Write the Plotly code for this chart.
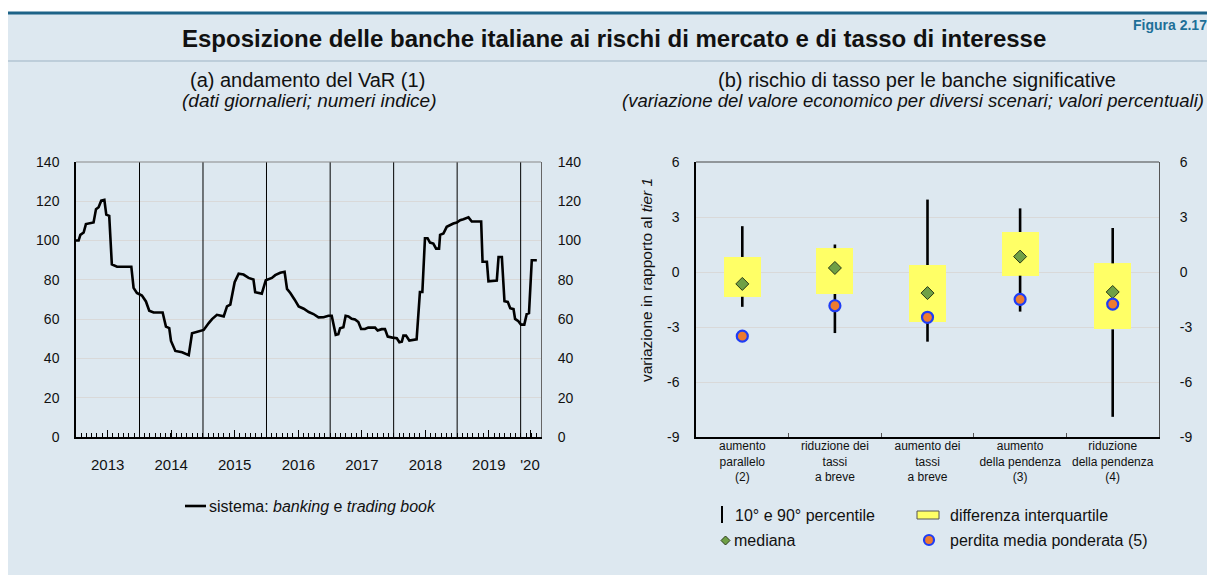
import plotly.graph_objects as go

# the page body adds an 8px margin, so the figure is drawn 8px in from the top-left
OFF = 8
W, H = 1215 - OFF, 575 - OFF

# ---------------- data ----------------
VAR_DATES = [
    "2013-01-01", "2013-01-16", "2013-01-26", "2013-02-14", "2013-02-27", "2013-03-24",
    "2013-04-12", "2013-04-26", "2013-05-11", "2013-05-26", "2013-06-13", "2013-06-24",
    "2013-07-11", "2013-07-26", "2013-08-25", "2013-11-15", "2013-11-28", "2013-12-17",
    "2014-01-15", "2014-02-07", "2014-02-26", "2014-03-23", "2014-05-14", "2014-06-02",
    "2014-06-21", "2014-07-01", "2014-07-26", "2014-09-03", "2014-10-11", "2014-10-30",
    "2014-12-13", "2015-01-05", "2015-02-03", "2015-02-22", "2015-03-22", "2015-04-30",
    "2015-05-19", "2015-06-07", "2015-07-02", "2015-07-25", "2015-08-22", "2015-09-20",
    "2015-10-18", "2015-10-28", "2015-12-05", "2015-12-28", "2016-02-01", "2016-02-20",
    "2016-03-20", "2016-04-14", "2016-04-28", "2016-05-17", "2016-06-11", "2016-07-04",
    "2016-08-02", "2016-08-31", "2016-09-27", "2016-10-26", "2016-11-24", "2016-12-22",
    "2017-01-10", "2017-02-02", "2017-02-17", "2017-02-27", "2017-03-18", "2017-03-31",
    "2017-04-16", "2017-05-05", "2017-05-24", "2017-06-12", "2017-06-28", "2017-07-20",
    "2017-08-08", "2017-09-16", "2017-10-01", "2017-10-24", "2017-11-12", "2017-11-28",
    "2017-12-25", "2018-01-19", "2018-02-03", "2018-02-17", "2018-02-26", "2018-03-13",
    "2018-04-01", "2018-04-24", "2018-05-13", "2018-06-01", "2018-06-15", "2018-06-30",
    "2018-07-15", "2018-07-29", "2018-08-17", "2018-09-02", "2018-09-19", "2018-09-25",
    "2018-10-14", "2018-11-02", "2018-11-21", "2018-12-10", "2018-12-30", "2019-01-18",
    "2019-02-06", "2019-03-07", "2019-03-26", "2019-05-19", "2019-05-27", "2019-06-21",
    "2019-06-30", "2019-08-17", "2019-08-27", "2019-09-15", "2019-09-30", "2019-10-19",
    "2019-11-02", "2019-11-21", "2019-11-30", "2019-12-19", "2020-01-03", "2020-01-22",
    "2020-02-05", "2020-02-18", "2020-03-05", "2020-04-03",
]
VAR_VALUES = [
    100, 100, 102.9, 104.1, 108.4, 108.9,
    109.2, 116, 117, 120.3, 120.7, 113.2,
    112.6, 87.9, 86.7, 86.7, 75.9, 73.3,
    72, 69, 64.3, 63.4, 63.4, 56.2,
    55.4, 48.9, 43.8, 43.1, 41.7, 52.8,
    53.7, 54.5, 58, 60, 62.2, 61.4,
    66.5, 67.4, 78.8, 83.1, 82.7, 81,
    80.2, 73.7, 73, 79.8, 81, 82.4,
    83.6, 84.1, 75.4, 73.3, 69.9, 66.5,
    65.3, 63.6, 62.6, 60.9, 61, 61.7,
    61.7, 52, 52.3, 55.4, 55.9, 61.7,
    61.4, 60.2, 59.8, 58.5, 55.0, 55.0,
    55.7, 55.7, 54.2, 54.9, 54.9, 51.1,
    50.6, 50.3, 48.2, 48.5, 51.6, 51.6,
    49.1, 49.4, 49.7, 73.8, 73.8, 101.2,
    101.2, 99, 98.5, 95.9, 95.9, 102.9,
    103.6, 107, 107.9, 108.7, 109.2, 110.4,
    110.9, 111.8, 109.7, 109.7, 89.2, 89.2,
    79.3, 79.7, 91.6, 91.6, 69.1, 68.8,
    65.6, 65.1, 60.1, 59, 57.2, 57.2,
    62.6, 63.1, 90, 90,
]
YEAR_LINES = ["2014-01-01", "2015-01-01", "2016-01-01", "2017-01-01",
              "2018-01-01", "2019-01-01", "2020-01-01"]
YEAR_TICKS = ["2013-07-02", "2014-07-02", "2015-07-02", "2016-07-02",
              "2017-07-02", "2018-07-02", "2019-07-02", "2020-02-24"]
YEAR_LABELS = ["2013", "2014", "2015", "2016", "2017", "2018", "2019", "'20"]
VAR_TICKS = [0, 20, 40, 60, 80, 100, 120, 140]

SCENARIOS = ["aumento<br>parallelo<br>(2)", "riduzione dei<br>tassi<br>a breve",
             "aumento dei<br>tassi<br>a breve", "aumento<br>della pendenza<br>(3)",
             "riduzione<br>della pendenza<br>(4)"]
P10 = [-1.9, -3.33, -3.8, -2.16, -7.9]
Q1 = [-1.35, -1.2, -2.71, -0.2, -3.13]
MEDIAN = [-0.65, 0.22, -1.15, 0.84, -1.09]
Q3 = [0.82, 1.3, 0.38, 2.18, 0.47]
P90 = [2.5, 1.5, 3.95, 3.47, 2.4]
WAVG_LOSS = [-3.5, -1.84, -2.47, -1.49, -1.75]
RISK_TICKS = [-9, -6, -3, 0, 3, 6]
RISK_TICK_LABELS = ["-9", "-6", "-3", "0", "3", "6"]

# ---------------- helpers ----------------
FONT = "Liberation Sans, Arial, Helvetica, sans-serif"
BG = "#DDE8F0"


def px(x):
    return (x - OFF) / W


def py(y):
    return 1 - (y - OFF) / H


fig = go.Figure()

# ---- left chart ----
fig.add_trace(go.Scatter(x=VAR_DATES, y=VAR_VALUES, mode="lines",
                         line=dict(color="black", width=2.6), xaxis="x", yaxis="y",
                         hoverinfo="skip"))
fig.add_trace(go.Scatter(x=VAR_DATES, y=VAR_VALUES, mode="lines",
                         line=dict(color="rgba(0,0,0,0)", width=0), xaxis="x", yaxis="y2",
                         hoverinfo="skip"))

# ---- right chart ----
fig.add_trace(go.Bar(x=SCENARIOS, y=[q3 - q1 for q1, q3 in zip(Q1, Q3)], base=Q1,
                     width=0.4, marker=dict(color="#FFFF66", line=dict(width=0)),
                     xaxis="x2", yaxis="y3", hoverinfo="skip"))
wx, wy = [], []
for c, lo, q1, q3, hi in zip(SCENARIOS, P10, Q1, Q3, P90):
    wx += [c, c, None, c, c, None]
    wy += [lo, q1, None, q3, hi, None]
fig.add_trace(go.Scatter(x=wx, y=wy, mode="lines", line=dict(color="black", width=2.6),
                         xaxis="x2", yaxis="y3", connectgaps=False, hoverinfo="skip"))
fig.add_trace(go.Scatter(x=SCENARIOS, y=MEDIAN, mode="markers",
                         marker=dict(symbol="diamond", size=10, color="#6FA046",
                                     line=dict(color="#2A3A18", width=1)),
                         xaxis="x2", yaxis="y3", hoverinfo="skip"))
fig.add_trace(go.Scatter(x=SCENARIOS, y=WAVG_LOSS, mode="markers",
                         marker=dict(symbol="circle", size=11, color="#EE7B30",
                                     line=dict(color="#1F3DF5", width=2.2)),
                         xaxis="x2", yaxis="y3", hoverinfo="skip"))
fig.add_trace(go.Scatter(x=SCENARIOS, y=WAVG_LOSS, mode="markers",
                         marker=dict(size=1, color="rgba(0,0,0,0)"),
                         xaxis="x2", yaxis="y4", hoverinfo="skip"))

tickfont = dict(family=FONT, size=14, color="#111")
ydom = [py(437), py(162)]

fig.update_layout(
    template="none",
    width=W, height=H, margin=dict(l=0, r=0, t=0, b=0, autoexpand=False),
    paper_bgcolor="white", plot_bgcolor="white", showlegend=False,
    font=dict(family=FONT, color="#111"),
    xaxis=dict(domain=[px(76), px(541)], anchor="y", type="date", automargin=False,
               range=["2013-01-01", "2020-04-27"],
               tickmode="array", tickvals=YEAR_TICKS, ticktext=YEAR_LABELS,
               ticks="inside", ticklen=7, tickwidth=1, tickcolor="black",
               minor=dict(dtick="M1", tick0="2013-01-01", ticks="inside", ticklen=4,
                          tickwidth=1, tickcolor="black", showgrid=False),
               showgrid=False, showline=True, linecolor="black", linewidth=1.5,
               zeroline=False,
               tickfont=dict(family=FONT, size=15, color="#111"), ticklabelstandoff=13),
    yaxis=dict(domain=ydom, anchor="x", range=[0, 140], automargin=False,
               tickmode="array", tickvals=VAR_TICKS,
               showgrid=True, gridcolor="#D9D9D9", gridwidth=1, zeroline=False,
               showline=True, linecolor="black", linewidth=1.5, ticks="",
               tickfont=tickfont, ticklabelstandoff=12),
    yaxis2=dict(overlaying="y", side="right", anchor="x", range=[0, 140], automargin=False,
                tickmode="array", tickvals=VAR_TICKS, showgrid=False, zeroline=False,
                showline=True, linecolor="#666", linewidth=1, ticks="", tickfont=tickfont,
                ticklabelstandoff=13),
    xaxis2=dict(domain=[px(696), px(1159)], anchor="y3", type="category", automargin=False,
                range=[-0.5, 4.5], categoryorder="array", categoryarray=SCENARIOS,
                ticks="inside", tickson="boundaries", ticklen=4, tickcolor="#555",
                tickangle=0,
                showgrid=False, showline=True, linecolor="black", linewidth=1.5,
                zeroline=False,
                tickfont=dict(family=FONT, size=12, color="#111"), ticklabelstandoff=-3),
    yaxis3=dict(domain=ydom, anchor="x2", range=[-9, 6], automargin=False,
                tickmode="array", tickvals=RISK_TICKS, ticktext=RISK_TICK_LABELS,
                showgrid=True, gridcolor="#D9D9D9", zeroline=False, showline=True,
                linecolor="black", linewidth=1.5, ticks="", tickfont=tickfont,
                ticklabelstandoff=12),
    yaxis4=dict(overlaying="y3", side="right", anchor="x2", range=[-9, 6], automargin=False,
                tickmode="array", tickvals=RISK_TICKS, ticktext=RISK_TICK_LABELS,
                showgrid=False, zeroline=False, showline=True,
                linecolor="#555", linewidth=1, ticks="", tickfont=tickfont,
                ticklabelstandoff=17),
    bargap=0,
)

shapes = []
# panel background
shapes.append(dict(type="rect", xref="paper", yref="paper", x0=0, x1=1,
                   y0=0, y1=py(13), fillcolor=BG, line=dict(width=0), layer="below"))
shapes.append(dict(type="line", xref="paper", yref="paper", x0=0, x1=1,
                   y0=py(13), y1=py(13), line=dict(color="#1D6388", width=3)))
shapes.append(dict(type="line", xref="paper", yref="paper", x0=0, x1=1,
                   y0=py(61), y1=py(61), line=dict(color="#9DB3C4", width=1)))
# year boundaries in left chart
for d in YEAR_LINES:
    shapes.append(dict(type="line", xref="x", yref="y domain", x0=d, x1=d, y0=0, y1=1,
                       line=dict(color="black", width=1)))
# top borders
shapes.append(dict(type="line", xref="x domain", yref="y domain", x0=0, x1=1, y0=1, y1=1,
                   line=dict(color="#888", width=1)))
shapes.append(dict(type="line", xref="x2 domain", yref="y3 domain", x0=0, x1=1, y0=1, y1=1,
                   line=dict(color="#444", width=1)))

# legends
shapes.append(dict(type="line", xref="paper", yref="paper", x0=px(185), x1=px(206),
                   y0=py(506), y1=py(506), line=dict(color="black", width=2.6)))
shapes.append(dict(type="line", xref="paper", yref="paper", x0=px(722), x1=px(722),
                   y0=py(506), y1=py(523), line=dict(color="black", width=2)))
shapes.append(dict(type="rect", xref="paper", yref="paper", x0=px(917), x1=px(939),
                   y0=py(519), y1=py(511), fillcolor="#FFFF66",
                   line=dict(color="#555", width=1)))
shapes.append(dict(type="path", xref="paper", yref="paper",
                   path=f"M {px(721)},{py(540.5)} L {px(725.5)},{py(536)} L {px(730)},{py(540.5)} L {px(725.5)},{py(545)} Z",
                   fillcolor="#6FA046", line=dict(color="#2A3A18", width=1)))
shapes.append(dict(type="circle", xref="paper", yref="paper", x0=px(924), x1=px(934),
                   y0=py(545), y1=py(535), fillcolor="#EE7B30",
                   line=dict(color="#1F3DF5", width=2.2)))
fig.update_layout(shapes=shapes)

ann = []


def add_text(x, y, text, size, xanchor="center", bold=False, color="#111", yanchor="middle", **kw):
    t = f"<b>{text}</b>" if bold else text
    ann.append(dict(x=px(x), y=py(y), xref="paper", yref="paper", text=t, showarrow=False,
                    xanchor=xanchor, yanchor=yanchor,
                    font=dict(family=FONT, size=size, color=color), **kw))


add_text(1209, 15, "Figura 2.17", 14, xanchor="right", yanchor="top", bold=True, color="#1D6F98")
add_text(614, 38, "Esposizione delle banche italiane ai rischi di mercato e di tasso di interesse", 24, bold=True)
add_text(307, 80, "(a) andamento del VaR (1)", 20)
add_text(309, 101, "<i>(dati giornalieri; numeri indice)</i>", 19)
add_text(917, 80, "(b) rischio di tasso per le banche significative", 20)
add_text(913, 101, "<i>(variazione del valore economico per diversi scenari; valori percentuali)</i>", 18.5)
add_text(646, 280, "variazione in rapporto al <i>tier 1</i>", 15.5, textangle=-90)
add_text(207, 506, "sistema: <i>banking</i> e <i>trading book</i>", 16, xanchor="left")
add_text(733, 515, "10° e 90° percentile", 16, xanchor="left")
add_text(948, 515, "differenza interquartile", 16, xanchor="left")
add_text(732, 540, "mediana", 16, xanchor="left")
add_text(948, 540, "perdita media ponderata (5)", 16, xanchor="left")
fig.update_layout(annotations=ann)

fig.write_html("out.html")
